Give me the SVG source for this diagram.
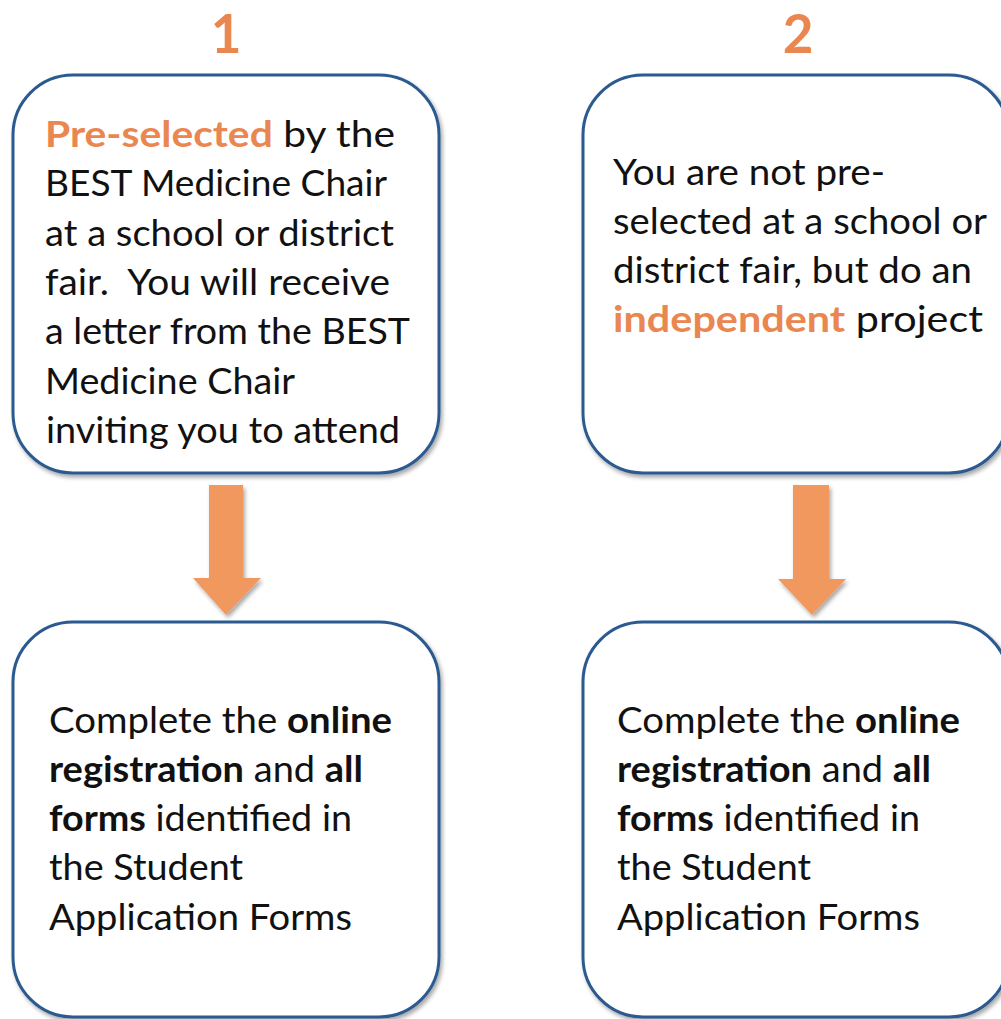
<svg xmlns="http://www.w3.org/2000/svg" width="1001" height="1019" viewBox="0 0 1001 1019">
<defs>
<filter id="sh" x="-10%" y="-10%" width="120%" height="120%">
<feGaussianBlur in="SourceAlpha" stdDeviation="2"/>
<feOffset dx="2" dy="3" result="o"/>
<feComponentTransfer><feFuncA type="linear" slope="0.35"/></feComponentTransfer>
<feMerge><feMergeNode/><feMergeNode in="SourceGraphic"/></feMerge>
</filter>
</defs>
<style>
.box{fill:#ffffff;stroke:#2c5a8f;stroke-width:3;filter:url(#sh)}
.arr{fill:#f1985f;filter:url(#sh)}
.t{font-family:Lato,"Open Sans","Liberation Sans",sans-serif;font-size:36px;fill:#111111}
.b{font-weight:bold}
.o{fill:#ea8650;font-weight:bold}
.num{font-family:Lato,"Open Sans","Liberation Sans",sans-serif;font-size:53px;font-weight:bold;fill:#ea8650;text-anchor:middle}
</style>
<rect width="1001" height="1019" fill="#ffffff"/>
<g id="connectors">
<polygon class="arr" points="209,485 243,485 243,578 261,578 226,615 193,578 209,578"/>
<polygon class="arr" points="793,485 829,485 829,579 846,579 812,615 778,579 793,579"/>
</g>
<g id="label-1"><text class="num" x="226" y="53">1</text></g>
<g id="label-2"><text class="num" x="798" y="53">2</text></g>
<g id="node-preselected">
<rect class="box" x="13" y="75" width="426" height="398" rx="60" ry="60"/>
<text class="t" x="45" y="147" textLength="350" lengthAdjust="spacingAndGlyphs"><tspan class="o">Pre-selected</tspan> by the</text>
<text class="t" x="45" y="196" textLength="342" lengthAdjust="spacingAndGlyphs">BEST Medicine Chair</text>
<text class="t" x="45" y="246" textLength="349" lengthAdjust="spacingAndGlyphs">at a school or district</text>
<text class="t" x="45" y="295" textLength="345" lengthAdjust="spacingAndGlyphs" xml:space="preserve">fair.  You will receive</text>
<text class="t" x="45" y="344" textLength="365" lengthAdjust="spacingAndGlyphs">a letter from the BEST</text>
<text class="t" x="45" y="394" textLength="250" lengthAdjust="spacingAndGlyphs">Medicine Chair</text>
<text class="t" x="46" y="443" textLength="354" lengthAdjust="spacingAndGlyphs">inviting you to attend</text>
</g>
<g id="node-independent">
<rect class="box" x="583" y="75" width="426" height="398" rx="60" ry="60"/>
<text class="t" x="613" y="185" textLength="272" lengthAdjust="spacingAndGlyphs">You are not pre-</text>
<text class="t" x="613" y="234" textLength="374" lengthAdjust="spacingAndGlyphs">selected at a school or</text>
<text class="t" x="613" y="283" textLength="359" lengthAdjust="spacingAndGlyphs">district fair, but do an</text>
<text class="t" x="613" y="332" textLength="370" lengthAdjust="spacingAndGlyphs"><tspan class="o">independent</tspan> project</text>
</g>
<g id="node-complete-1">
<rect class="box" x="13" y="622" width="426" height="395" rx="60" ry="60"/>
<text class="t" x="49" y="733" textLength="343" lengthAdjust="spacingAndGlyphs">Complete the <tspan class="b">online</tspan></text>
<text class="t" x="49" y="782" textLength="314" lengthAdjust="spacingAndGlyphs"><tspan class="b">registration</tspan> and <tspan class="b">all</tspan></text>
<text class="t" x="49" y="831" textLength="303" lengthAdjust="spacingAndGlyphs"><tspan class="b">forms</tspan> identified in</text>
<text class="t" x="49" y="880" textLength="194" lengthAdjust="spacingAndGlyphs">the Student</text>
<text class="t" x="49" y="930" textLength="303" lengthAdjust="spacingAndGlyphs">Application Forms</text>
</g>
<g id="node-complete-2">
<rect class="box" x="583" y="622" width="426" height="395" rx="60" ry="60"/>
<text class="t" x="617" y="733" textLength="343" lengthAdjust="spacingAndGlyphs">Complete the <tspan class="b">online</tspan></text>
<text class="t" x="617" y="782" textLength="314" lengthAdjust="spacingAndGlyphs"><tspan class="b">registration</tspan> and <tspan class="b">all</tspan></text>
<text class="t" x="617" y="831" textLength="303" lengthAdjust="spacingAndGlyphs"><tspan class="b">forms</tspan> identified in</text>
<text class="t" x="617" y="880" textLength="194" lengthAdjust="spacingAndGlyphs">the Student</text>
<text class="t" x="617" y="930" textLength="303" lengthAdjust="spacingAndGlyphs">Application Forms</text>
</g>
</svg>
